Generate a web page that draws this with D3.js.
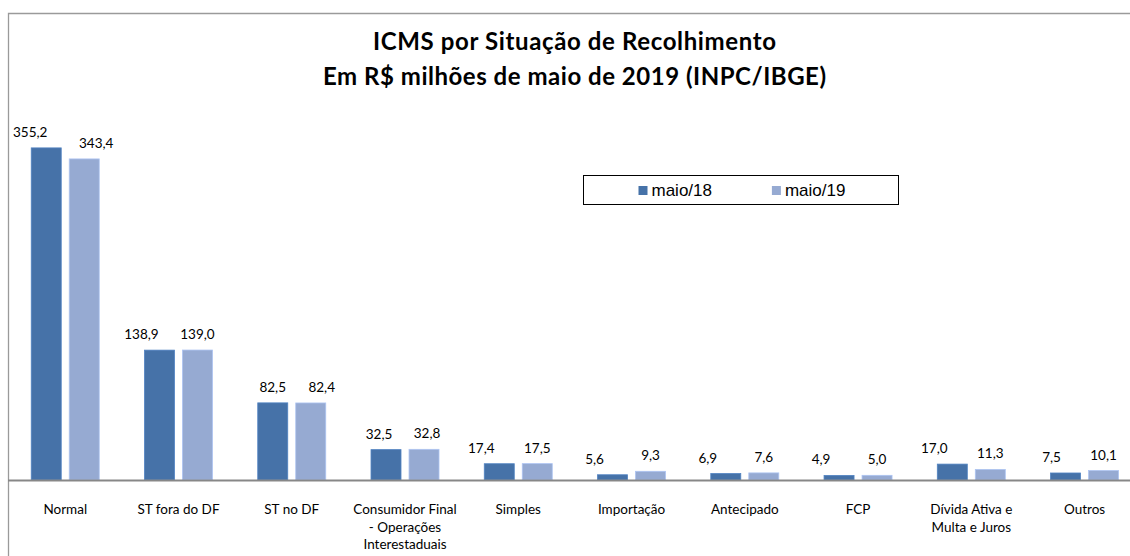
<!DOCTYPE html>
<html>
<head>
<meta charset="utf-8">
<script src="https://cdn.jsdelivr.net/npm/d3@7"></script>
<style>
  body { margin: 0; background: #fff; }
  svg { display: block; }
  .title { font-family: Lato, "Open Sans", sans-serif; font-weight: bold; fill: #000; }
  .vlabel, .clabel { font-family: Lato, "Open Sans", sans-serif; font-size: 13.5px; fill: #000; }
  .legend text { font-family: "Liberation Sans", Arial, sans-serif; font-size: 17px; fill: #000; }
</style>
</head>
<body>
<svg id="chart" width="1130" height="556"></svg>
<script>

// categories, "|" marks a line break in the tick label
var categories = ['Normal', 'ST fora do DF', 'ST no DF', 'Consumidor Final|- Operações|Interestaduais',
    'Simples', 'Importação', 'Antecipado', 'FCP', 'Dívida Ativa e|Multa e Juros', 'Outros'];
var seriesNames = ['maio/18', 'maio/19'];
var maio18 = [355.2, 138.9, 82.5, 32.5, 17.4, 5.6, 6.9, 4.9, 17.0, 7.5];
var maio19 = [343.4, 139.0, 82.4, 32.8, 17.5, 9.3, 7.6, 5.0, 11.3, 10.1];
var titleLines = ['ICMS por Situação de Recolhimento', 'Em R$ milhões de maio de 2019 (INPC/IBGE)'];

var colors = {'maio/18': '#4672a8', 'maio/19': '#96aad2'};

// labels were dragged around by hand in the original
var labelDx = {
    'default': [-18, 0],
    'Normal': [-16, 12],
    'ST no DF': [0, 11],
    'Consumidor Final|- Operações|Interestaduais': [-7, 3],
    'Outros': [-14, 0]
};

var svg = d3.select('#chart');

var x0 = d3.scaleBand()
    .domain(categories)
    .range([8.6, 1141.2]);

var x1 = d3.scaleBand()
    .domain(seriesNames)
    .range([x0.bandwidth() / 2 - 34, x0.bandwidth() / 2 + 34])
    .paddingInner(8 / 38);

var y = d3.scaleLinear()
    .domain([0, 400])
    .range([480, 106]);

var fmt = function(v) { return d3.format('.1f')(v).replace('.', ','); };

var rows = categories.map(function(c, i) {
    return {cat: c, values: [
        {s: 'maio/18', v: maio18[i], k: 0, cat: c},
        {s: 'maio/19', v: maio19[i], k: 1, cat: c}
    ]};
});

// frame (only top and left edges show)
svg.append('path')
    .attr('d', 'M8.5,556V13.5H1130')
    .attr('fill', 'none')
    .attr('stroke', '#9a9a9a')
    .attr('stroke-width', 1.3);

// title, stretched to the widths of the original lines
var titleWidths = [403, 503];
svg.append('g')
    .selectAll('text')
    .data(titleLines)
    .enter()
    .append('text')
    .attr('class', 'title')
    .attr('x', 574.5)
    .attr('y', function(d, i) { return 50 + i * 35; })
    .attr('text-anchor', 'middle')
    .style('font-size', '24px')
    .attr('textLength', function(d, i) { return titleWidths[i]; })
    .attr('lengthAdjust', 'spacing')
    .text(function(d) { return d; });

var groups = svg.append('g')
    .selectAll('.grp')
    .data(rows)
    .enter()
    .append('g')
    .attr('class', 'grp')
    .attr('transform', function(d) { return 'translate(' + x0(d.cat) + ',0)'; });

groups.selectAll('rect')
    .data(function(d) { return d.values; })
    .enter()
    .append('rect')
    .attr('x', function(d) { return x1(d.s); })
    .attr('y', function(d) { return y(d.v); })
    .attr('width', x1.bandwidth())
    .attr('height', function(d) { return y(0) - y(d.v); })
    .attr('fill', function(d) { return colors[d.s]; })
    .attr('stroke', function(d) { return d3.color(colors[d.s]).brighter(0.4); })
    .attr('stroke-width', 0.8);

groups.selectAll('.vlabel')
    .data(function(d) { return d.values; })
    .enter()
    .append('text')
    .attr('class', 'vlabel')
    .attr('text-anchor', 'middle')
    .attr('x', function(d) {
        var dx = (labelDx[d.cat] || labelDx['default'])[d.k];
        return x1(d.s) + x1.bandwidth() / 2 + dx;
    })
    .attr('y', function(d) { return y(d.v) - 11; })
    .text(function(d) { return fmt(d.v); });

// baseline
svg.append('line')
    .attr('x1', 8)
    .attr('x2', 1130)
    .attr('y1', y(0) + 0.5)
    .attr('y2', y(0) + 0.5)
    .attr('stroke', '#878787')
    .attr('stroke-width', 2);

// category labels
svg.append('g')
    .selectAll('.clabel')
    .data(categories)
    .enter()
    .append('text')
    .attr('class', 'clabel')
    .attr('text-anchor', 'middle')
    .attr('transform', function(c) { return 'translate(' + (x0(c) + x0.bandwidth() / 2) + ',514)'; })
    .each(function(c) {
        d3.select(this).selectAll('tspan')
            .data(c.split('|'))
            .enter()
            .append('tspan')
            .attr('x', 0)
            .attr('y', function(l, i) { return i * 17.5; })
            .text(function(l) { return l; });
    });

// legend
var legend = svg.append('g').attr('class', 'legend');

legend.append('rect')
    .attr('x', 583.5)
    .attr('y', 175.5)
    .attr('width', 315)
    .attr('height', 29)
    .attr('fill', '#fff')
    .attr('stroke', '#000')
    .attr('stroke-width', 1);

var items = legend.selectAll('.item')
    .data(seriesNames)
    .enter()
    .append('g')
    .attr('class', 'item')
    .attr('transform', function(s, i) { return 'translate(' + (638.5 + i * 133.4) + ',0)'; });

items.append('rect')
    .attr('x', 0)
    .attr('y', 186)
    .attr('width', 9)
    .attr('height', 9)
    .attr('fill', function(s) { return colors[s]; });

items.append('text')
    .attr('x', 13)
    .attr('y', 195.5)
    .text(function(s) { return s; });

</script>
</body>
</html>
